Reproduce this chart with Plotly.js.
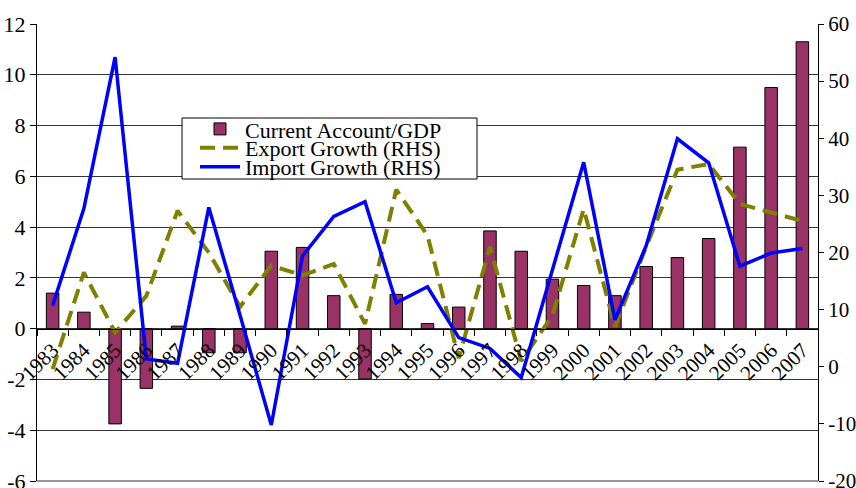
<!DOCTYPE html>
<html>
<head>
<meta charset="utf-8">
<script src="https://cdn.plot.ly/plotly-3.0.1.min.js"></script>
<style>html,body{margin:0;padding:0;background:#fff;}#chart{width:856px;height:488px;}</style>
</head>
<body>
<div id="chart"></div>
<script>
const years = ['1983','1984','1985','1986','1987','1988','1989','1990','1991','1992','1993','1994','1995','1996','1997','1998','1999','2000','2001','2002','2003','2004','2005','2006','2007'];
const currentAccount = [1.4, 0.65, -3.75, -2.35, 0.1, -0.95, -0.95, 3.05, 3.2, 1.3, -1.98, 1.35, 0.2, 0.85, 3.85, 3.05, 1.95, 1.7, 1.3, 2.45, 2.8, 3.55, 7.15, 9.5, 11.3];
const exportGrowth = [-0.4, 16.5, 6, 12.4, 27.3, 20, 10.5, 17.7, 16, 18, 7.5, 31, 23, 1.5, 21, 1, 9, 27.6, 7, 21, 34.5, 35.5, 28.5, 27, 25.5];
const importGrowth = [10.7, 27.7, 54.2, 1.35, 0.6, 27.9, 9, -10.2, 19.4, 26.3, 28.9, 11.2, 14, 5.1, 3.2, -1.9, 17, 35.8, 8.2, 21.2, 39.9, 35.7, 17.6, 19.9, 20.7];
const leftTicks = [-6, -4, -2, 0, 2, 4, 6, 8, 10, 12];
const leftTickText = ['-6', '-4', '-2', '0', '2', '4', '6', '8', '10', '12'];
const rightTicks = [-20, -10, 0, 10, 20, 30, 40, 50, 60];
const rightTickText = ['-20', '-10', '0', '10', '20', '30', '40', '50', '60'];

const serif = 'Liberation Serif';

const traces = [
  {type:'bar', x: years, y: currentAccount, name:'Current Account/GDP',
   marker:{color:'#993366', line:{color:'#000', width:1}}, yaxis:'y', legend:'legend'},
  {type:'scatter', mode:'lines', x: years, y: exportGrowth, name:'Export Growth (RHS)',
   line:{color:'#808000', width:4, dash:'15px,8px'}, yaxis:'y2', legend:'legend2'},
  {type:'scatter', mode:'lines', x: years, y: importGrowth, name:'Import Growth (RHS)',
   line:{color:'#0000ff', width:3.5}, yaxis:'y2', legend:'legend3'}
];

function leg(y) {
  return {x:0.2023, y:y, xanchor:'left', yanchor:'middle', bgcolor:'rgba(0,0,0,0)',
    borderwidth:0, font:{family:serif, size:22, color:'#000'}, itemwidth:40};
}

const layout = {
  width:856, height:488,
  margin:{l:37, r:38, t:24, b:7},
  paper_bgcolor:'#fff', plot_bgcolor:'#fff',
  bargap:0.6,
  showlegend:true,
  legend:leg(0.770), legend2:leg(0.7287), legend3:leg(0.687),
  font:{family:serif, size:19, color:'#000'},
  shapes:[
    {type:'line', xref:'paper', yref:'paper', x0:0, x1:1, y0:0, y1:0, line:{color:'#333', width:1}, layer:'below'},
    {type:'rect', xref:'paper', yref:'paper', x0:0.1857, x1:0.5634, y0:0.6608, y1:0.7943,
    fillcolor:'#fff', line:{color:'#000', width:1}, layer:'above'}],
  xaxis:{type:'category', anchor:'free', position:1/3, showline:true, linecolor:'#000', linewidth:1,
    ticks:'outside', tickson:'boundaries', ticklen:6, tickcolor:'#000', tickangle:-45,
    showgrid:false, tickfont:{family:serif, size:21, color:'#000'}, fixedrange:true},
  yaxis:{range:[-6,12], tickvals:leftTicks, ticktext:leftTickText, showgrid:true, gridcolor:'#333', gridwidth:1, zeroline:false,
    showline:true, linecolor:'#000', linewidth:1, ticks:'outside', ticklen:6, tickcolor:'#000',
    ticklabeloverflow:'allow', tickfont:{family:serif, size:22, color:'#000'}},
  yaxis2:{range:[-20,60], tickvals:rightTicks, ticktext:rightTickText, overlaying:'y', side:'right', showgrid:false, zeroline:false,
    showline:true, linecolor:'#000', linewidth:1, ticks:'outside', ticklen:5, tickcolor:'#000',
    ticklabeloverflow:'allow', tickfont:{family:serif, size:21, color:'#000'}}
};

Plotly.newPlot('chart', traces, layout, {staticPlot:true});
</script>
</body>
</html>
